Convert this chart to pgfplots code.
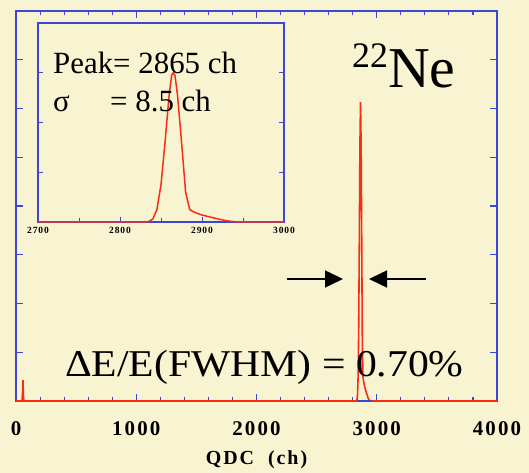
\documentclass[border=0pt]{standalone}
\usepackage{fontspec}
\setmainfont{Liberation Serif}
\newfontfamily\serif{Liberation Serif}
\newfontfamily\tickfont[LetterSpace=10]{Liberation Serif}
\usepackage{pgfplots}
\pgfplotsset{compat=1.18}
\usetikzlibrary{arrows.meta}
\definecolor{bg}{RGB}{248,243,208}
\definecolor{axblue}{RGB}{60,70,210}
\definecolor{specred}{RGB}{250,45,20}
\begin{document}
\begin{tikzpicture}[x=1bp,y=1bp]
\fill[bg] (0,0) rectangle (529,473);
\useasboundingbox (0,0) rectangle (529,473);
% main spectrum
\begin{axis}[
  at={(16bp,72bp)}, anchor=south west, scale only axis,
  width=481bp, height=390bp,
  xmin=0, xmax=4000, ymin=0, ymax=8,
  xtick={0,1000,2000,3000,4000}, minor x tick num=4,
  ytick={0,1,...,8}, yticklabels={},
  tick align=inside,
  axis line style={axblue, line width=1.4pt},
  tick style={axblue, line width=1.1pt},
  major tick length=7bp, minor tick length=4bp,
  /pgf/number format/assume math mode=true,
  /pgf/number format/1000 sep={},
  xticklabel style={font=\fontsize{21}{21}\tickfont\bfseries, yshift=-17bp},
  xlabel={QDC\ \ (ch)},
  xlabel style={font=\fontsize{20}{20}\tickfont\bfseries,
    at={(axis description cs:0.5,0)}, anchor=base, yshift=-64bp},
  clip=false,
]
\addplot[specred, line width=1.6pt] coordinates {
 (0,0) (50,0) (55,0.2) (58,0.43) (62,0.1) (66,0) (2830,0)
 (2835,0.02) (2840,0.12) (2845,0.5) (2850,1.53) (2855,3.31) (2860,5.25)
 (2865,6.13) (2870,5.25) (2875,3.31) (2880,1.23) (2885,0.51) (2890,0.41)
 (2900,0.29) (2910,0.2) (2920,0.12) (2930,0.05) (2940,0.01) (2950,0) (4000,0)
};
\addplot[axblue, line width=1.4pt] coordinates {(2850,0) (2960,0)};
\end{axis}
% inset
\begin{axis}[
  at={(38bp,251bp)}, anchor=south west, scale only axis,
  width=246bp, height=199bp,
  xmin=2700, xmax=3000, ymin=0, ymax=4,
  xtick={2700,2800,2900,3000}, minor x tick num=1,
  xtick pos=lower,
  ytick={0,1,...,4}, yticklabels={},
  tick align=inside,
  axis background/.style={fill=bg},
  axis line style={axblue, line width=1.2pt},
  tick style={axblue, line width=1pt},
  major tick length=5bp, minor tick length=4bp,
  /pgf/number format/assume math mode=true,
  /pgf/number format/1000 sep={},
  xticklabel style={font=\fontsize{9.5}{10}\tickfont\bfseries, yshift=-2bp},
  clip=false,
]
\addplot[specred, line width=1.5pt] coordinates {
 (2700,0) (2830,0) (2835,0.01) (2840,0.06) (2845,0.25) (2850,0.75)
 (2855,1.62) (2860,2.57) (2863,2.95) (2865,3.0) (2867,2.95) (2870,2.57)
 (2875,1.62) (2880,0.6) (2885,0.25) (2890,0.2) (2900,0.14) (2910,0.10)
 (2920,0.06) (2930,0.025) (2940,0.005) (2950,0) (3000,0)
};
\end{axis}
% annotations
\node[anchor=base west, inner sep=0, font=\serif\fontsize{31}{31}\selectfont] at (53,399) {Peak= 2865 ch};
\node[anchor=base west, inner sep=0, font=\serif\fontsize{31}{31}\selectfont] at (53,361) {σ};
\node[anchor=base west, inner sep=0, font=\serif\fontsize{31}{31}\selectfont] at (110,361) {= 8.5 ch};
\node[anchor=base west, inner sep=0, font=\serif] at (352,385) {\raisebox{20bp}{\fontsize{36}{36}\selectfont 22}\fontsize{58}{58}\selectfont Ne};
\node[anchor=base west, inner sep=0, font=\serif] at (65,96) {\scalebox{1.1}[1]{\fontsize{38}{38}\selectfont ΔE/E(FWHM) = 0.70\%}};
\draw[line width=1.5bp, -{Triangle[length=18bp,width=17bp]}] (287,194) -- (343,194);
\draw[line width=1.5bp, -{Triangle[length=18bp,width=17bp]}] (426,194) -- (369,194);
\end{tikzpicture}
\end{document}
